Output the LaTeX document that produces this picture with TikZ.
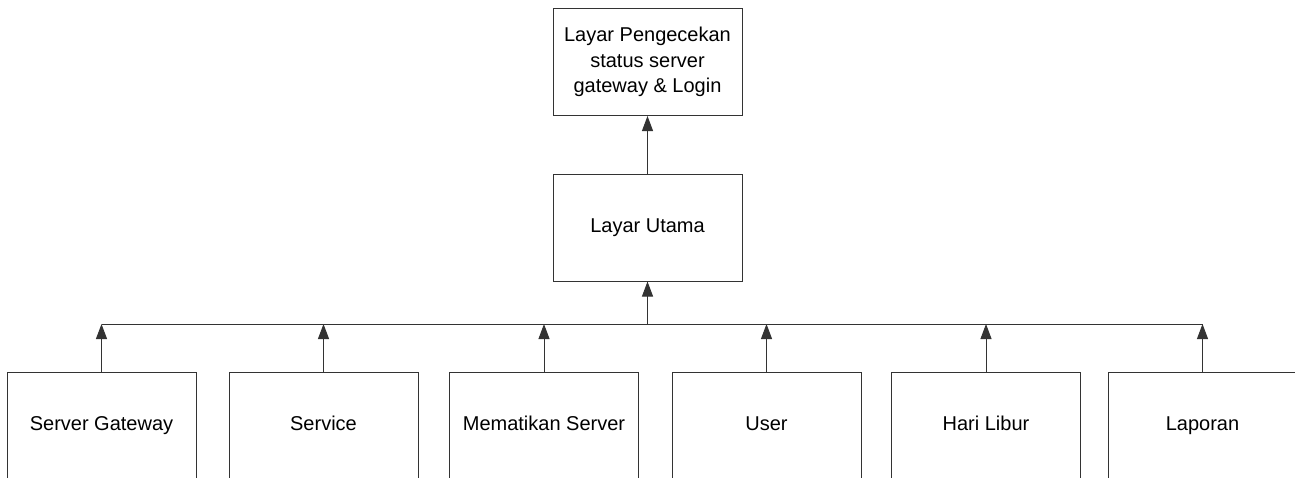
\documentclass[tikz,border=0pt]{standalone}
\usepackage{fontspec}
\setmainfont{Liberation Sans}
\usetikzlibrary{arrows.meta}
\begin{document}
\begin{tikzpicture}[x=1pt,y=-1pt,
  box/.style={draw=black!80, line width=1pt, minimum width=189pt, minimum height=107pt, inner sep=0pt, align=center, font=\fontsize{20}{25.5}\selectfont},
  onebox/.style={box, text height=14.5pt, text depth=4.5pt},
  conn/.style={draw=black!80, line width=1pt},
  arr/.style={conn, -{Triangle[length=15pt,width=11pt]}}]
\clip (0,0) rectangle (1295,477);
\node[box] (top) at (647.5,62) {Layar Pengecekan\\status server\\gateway \& Login};
\node[onebox] (main) at (647.5,227.5) {Layar Utama};
\node[onebox] (b1) at (101.5,425.5) {Server Gateway};
\node[onebox] (b2) at (323.5,425.5) {Service};
\node[onebox] (b3) at (544,425.5) {Mematikan Server};
\node[onebox] (b4) at (766.5,425.5) {User};
\node[onebox] (b5) at (986,425.5) {Hari Libur};
\node[onebox] (b6) at (1202.5,425.5) {Laporan};
\coordinate (bus) at (647.5,324);
\draw[conn] (b1.north |- bus) -- (b6.north |- bus);
\foreach \b in {b1,b2,b3,b4,b5,b6}{
  \draw[arr] (\b.north) -- (\b.north |- bus);
}
\draw[arr] (bus) -- (main.south);
\draw[arr] (main.north) -- (top.south);
\end{tikzpicture}
\end{document}
